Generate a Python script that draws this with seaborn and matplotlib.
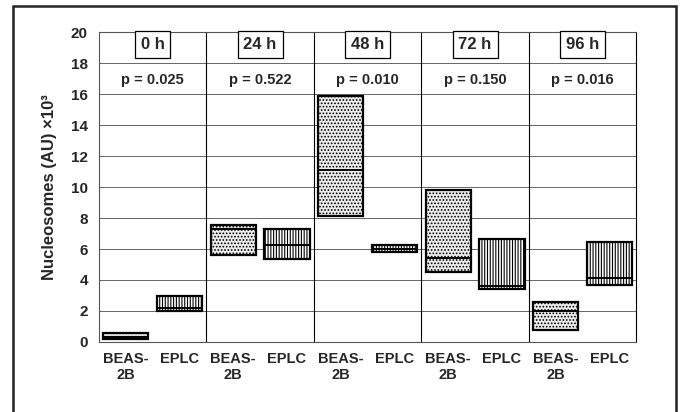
import numpy as np
import pandas as pd
import seaborn as sns
import matplotlib.pyplot as plt
from matplotlib.patches import Rectangle

# values (nucleosomes, AU x10^3)
times = ['0 h', '24 h', '48 h', '72 h', '96 h']
p_values = ['p = 0.025', 'p = 0.522', 'p = 0.010', 'p = 0.150', 'p = 0.016']
cells = ['BEAS-\n2B', 'EPLC']
low = [0.2, 2.0, 5.6, 5.35, 8.1, 5.8, 4.5, 3.4, 0.75, 3.7]
high = [0.55, 2.95, 7.55, 7.3, 15.9, 6.25, 9.8, 6.65, 2.6, 6.45]
median = [0.35, 2.2, 7.3, 6.25, 11.1, 6.0, 5.45, 3.6, 2.0, 4.15]

sns.set_style('white')
plt.rcParams['font.family'] = ['Liberation Sans', 'DejaVu Sans']
plt.rcParams['hatch.linewidth'] = 0.8

df = pd.DataFrame({
    'slot': [f'{t} {c}' for t in times for c in cells],
    'cell': cells * len(times),
    'low': low,
    'high': high,
    'median': median,
})
df['span'] = df['high'] - df['low']

fig, ax = plt.subplots(figsize=(6.82, 4.12), dpi=100)
fig.subplots_adjust(left=0.145, right=0.933, bottom=0.170, top=0.922)

sns.barplot(data=df, x='slot', y='span', bottom=df['low'].values, width=0.84,
            color='white', edgecolor='black', linewidth=1.6, errorbar=None, ax=ax, zorder=3)

for patch, cell in zip(ax.patches, df['cell']):
    if cell == 'EPLC':
        patch.set_facecolor('white')
        patch.set_hatch('||||||')
    else:
        patch.set_facecolor('#ececec')
        patch.set_hatch('.....')

# median line in each box
ax.hlines(df['median'], np.arange(len(df)) - 0.42, np.arange(len(df)) + 0.42,
          color='black', linewidth=1.4, zorder=4)

ax.set_ylim(0, 20)
ax.set_xlim(-0.5, len(df) - 0.5)
ax.set_yticks(range(0, 21, 2))
ax.set_yticklabels([str(v) for v in range(0, 21, 2)], fontsize=11, fontweight='bold')
ax.set_xticks(range(len(df)))
ax.set_xticklabels(df['cell'], fontsize=10.5, fontweight='bold', linespacing=1.25)
ax.tick_params(axis='y', length=5, width=0.8, color='#555555', pad=3)
ax.tick_params(axis='x', length=0, pad=7)
ax.yaxis.grid(True, color='#666666', linewidth=0.7, zorder=0)
ax.set_axisbelow(True)
for side in ['left', 'bottom', 'top', 'right']:
    ax.spines[side].set_color('#555555')
    ax.spines[side].set_linewidth(0.8)
ax.spines['right'].set_color('black')

for x in [1.5, 3.5, 5.5, 7.5]:
    ax.axvline(x, color='black', linewidth=0.8, zorder=2)

for i, (t, p) in enumerate(zip(times, p_values)):
    ax.text(2 * i + 0.5, 19.2, t, ha='center', va='center', fontsize=12, fontweight='bold',
            bbox=dict(boxstyle='square,pad=0.35', fc='white', ec='black', lw=0.9), zorder=5)
    ax.text(2 * i + 0.5, 16.9, p, ha='center', va='center', fontsize=10.5, fontweight='bold')

ax.set_xlabel('')
ax.set_ylabel('Nucleosomes (AU) \u00d710\u00b3', fontsize=12, fontweight='bold', labelpad=10)

# outer frame around the figure panel
fig.patches.append(Rectangle((13 / 682, -0.2), 663 / 682, 1.2 - 6 / 412, transform=fig.transFigure,
                             fill=False, edgecolor='#222222', linewidth=1.8))

plt.savefig('out.png', dpi=100)
